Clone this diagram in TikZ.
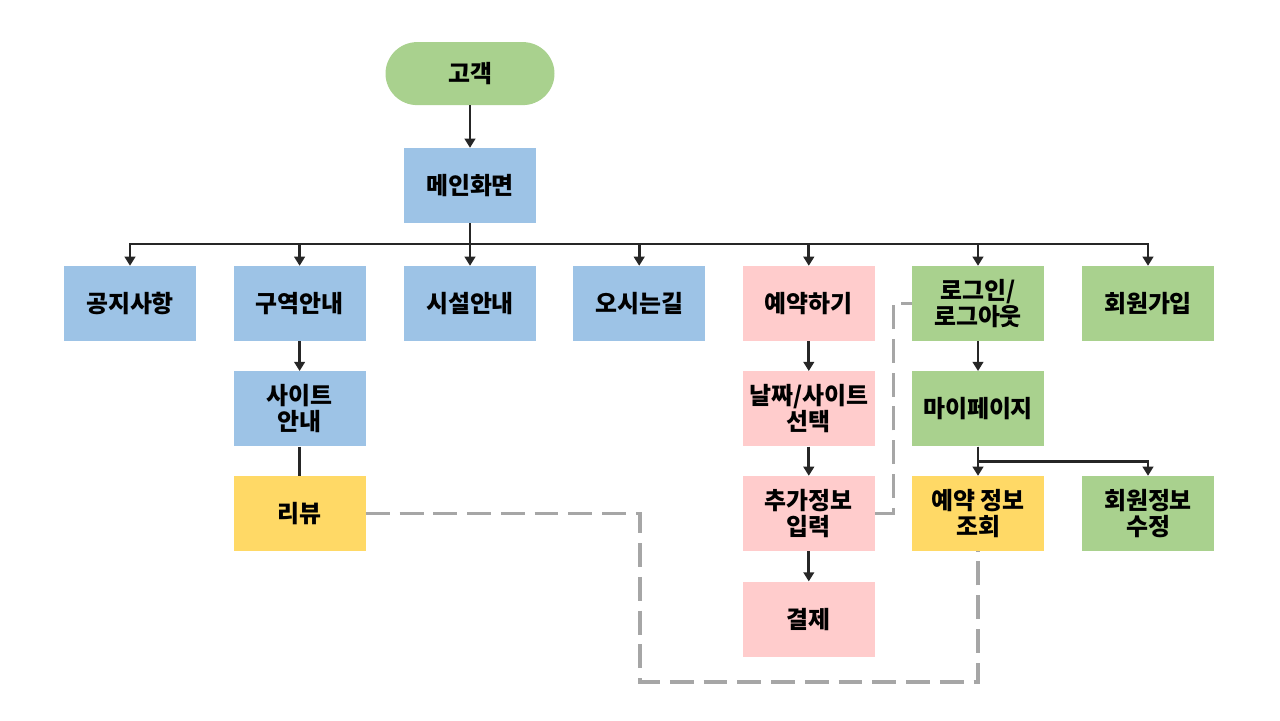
\documentclass[tikz,border=0pt]{standalone}
\usepackage{fontspec}
\setmainfont{Noto Sans CJK KR}
\usetikzlibrary{arrows.meta, calc, positioning}
\definecolor{boxgreen}{RGB}{169,209,142}
\definecolor{boxblue}{RGB}{157,195,230}
\definecolor{boxpink}{RGB}{255,204,204}
\definecolor{boxyellow}{RGB}{255,217,102}
\definecolor{linedark}{RGB}{38,38,38}
\definecolor{linegray}{RGB}{166,166,166}

\begin{document}
\begin{tikzpicture}[>={Triangle[width=7.5pt,length=6.5pt]},
    page/.style={rectangle, minimum width=3.3cm, minimum height=1.875cm, inner sep=0pt,
      align=center, font=\fontsize{17}{18.5}\selectfont\bfseries},
    bluebox/.style={page, fill=boxblue},
    pinkbox/.style={page, fill=boxpink},
    greenbox/.style={page, fill=boxgreen},
    yellowbox/.style={page, fill=boxyellow},
    arr/.style={->, draw=linedark, line width=2pt},
    link/.style={draw=linedark, line width=2pt},
    dashlink/.style={draw=linegray, line width=2.2pt, dash pattern=on 17pt off 7pt}]
  \useasboundingbox (0,0) rectangle (32,-18);
  % --- top ---
  \node[page, fill=boxgreen, rounded corners=0.79cm, minimum width=4.225cm, minimum height=1.575cm]
    (cust) at (11.75,-1.84) {고객};
  \node[bluebox] (main) at (11.75,-4.64) {메인화면};
  \draw[arr] (cust) -- (main);
  \coordinate (bus) at (0,-6.1);
  % --- first row ---
  \node[bluebox] (notice) at (3.25,-7.59) {공지사항};
  \node[bluebox] (zone) at (7.49,-7.59) {구역안내};
  \node[bluebox] (facil) at (11.75,-7.59) {시설안내};
  \node[bluebox] (route) at (15.98,-7.59) {오시는길};
  \node[pinkbox] (book) at (20.22,-7.59) {예약하기};
  \node[greenbox] (login) at (24.45,-7.59) {로그인/\\로그아웃};
  \node[greenbox] (join) at (28.7,-7.59) {회원가입};
  \foreach \n in {notice,zone,facil,route,book,login,join}
    \draw[arr] (main.south) -- (main.south |- bus) -| (\n.north);
  % --- second row ---
  \node[bluebox] (site) at (7.49,-10.22) {사이트\\안내};
  \node[pinkbox] (date) at (20.22,-10.22) {날짜/사이트\\선택};
  \node[greenbox] (mypage) at (24.45,-10.22) {마이페이지};
  % --- third row ---
  \node[yellowbox] (review) at (7.49,-12.84) {리뷰};
  \node[pinkbox] (extra) at (20.22,-12.84) {추가정보\\입력};
  \node[yellowbox] (lookup) at (24.45,-12.84) {예약 정보\\조회};
  \node[greenbox] (edit) at (28.7,-12.84) {회원정보\\수정};
  % --- fourth row ---
  \node[pinkbox] (pay) at (20.22,-15.48) {결제};
  % --- links ---
  \draw[arr] (zone) -- (site);
  \draw[link] (site) -- (review);
  \draw[arr] (book) -- (date);
  \draw[arr] (date) -- (extra);
  \draw[arr] (extra) -- (pay);
  \draw[arr] (login) -- (mypage);
  \draw[arr] (mypage) -- (lookup);
  \draw[arr] (mypage.south) |- ($(mypage.south)!0.5!(lookup.north)$) -| (edit.north);
  \coordinate (turn) at (16,-17.05);
  \draw[dashlink] (review.east) -| (turn) -| (lookup.south);
  \draw[dashlink] (extra.east) -- ++(0.45,0) |- (login.west);
\end{tikzpicture}
\end{document}
